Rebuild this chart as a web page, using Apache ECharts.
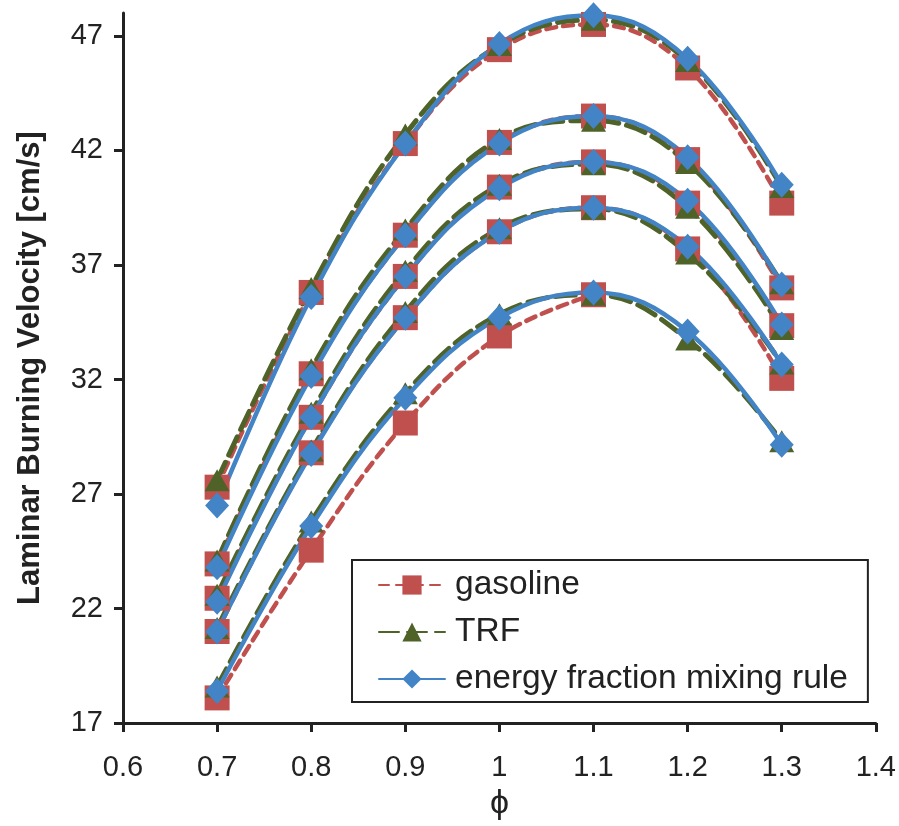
<!DOCTYPE html>
<html><head><meta charset="utf-8">
<script src="https://cdn.jsdelivr.net/npm/echarts@6/dist/echarts.min.js"></script>
<style>html,body{margin:0;padding:0;background:#fff}#c{width:899px;height:826px}</style>
</head><body><div id="c"></div>
<script>
const phi = [0.7, 0.8, 0.9, 1.0, 1.1, 1.2, 1.3];
const yTicks = [17, 22, 27, 32, 37, 42, 47];

const gasoline1 = [27.3, 35.8, 42.3, 46.4, 47.5, 45.6, 39.7];
const gasoline2 = [23.95, 32.25, 38.3, 42.35, 43.5, 41.6, 36.0];
const gasoline3 = [22.45, 30.35, 36.5, 40.4, 41.5, 39.7, 34.35];
const gasoline4 = [21.0, 28.8, 34.7, 38.45, 39.5, 37.7, 32.05];
const gasoline5 = [18.1, 24.55, 30.1, 33.9, 35.7, null, null];

const trf1 = [27.6, 36.0, 42.7, 46.6, 47.7, 45.9, 40.4];
const trf2 = [24.1, 32.45, 38.55, 42.5, 43.3, 41.45, 36.2];
const trf3 = [22.6, 30.55, 36.75, 40.5, 41.4, 39.5, 34.2];
const trf4 = [21.15, 28.9, 34.95, 38.6, 39.45, 37.5, 32.7];
const trf5 = [18.6, 25.8, 31.4, 34.85, 35.7, 33.75, 29.3];

const energy1 = [26.5, 35.6, 42.3, 46.65, 47.9, 46.0, 40.5];
const energy2 = [23.8, 32.15, 38.3, 42.3, 43.5, 41.7, 36.15];
const energy3 = [22.3, 30.35, 36.5, 40.35, 41.5, 39.8, 34.4];
const energy4 = [21.0, 28.75, 34.7, 38.45, 39.5, 37.8, 32.65];
const energy5 = [18.4, 25.6, 31.2, 34.7, 35.8, 34.1, 29.15];

const names = ['gasoline', 'TRF', 'energy fraction mixing rule'];
const RED = '#C0504D', GREEN = '#4F6228', BLUE = '#4284C6';
const FONT = 'Liberation Sans';

function pairs(arr) { return phi.map((x, i) => [x, arr[i]]); }

const styles = [
  { name: names[0], color: RED, symbol: 'rect', size: 25, dash: [10, 7], width: 4.5 },
  { name: names[1], color: GREEN, symbol: 'triangle', size: [25, 22], dash: [20, 8], width: 5 },
  { name: names[2], color: BLUE, symbol: 'diamond', size: [24, 26], dash: 'solid', width: 4.5 }
];
const groups = [
  [gasoline1, gasoline2, gasoline3, gasoline4, gasoline5],
  [trf1, trf2, trf3, trf4, trf5],
  [energy1, energy2, energy3, energy4, energy5]
];
const series = [];
groups.forEach((g, k) => {
  const s = styles[k];
  g.forEach(arr => {
    series.push({
      type: 'line', name: s.name, data: pairs(arr), smooth: 0.4,
      symbol: s.symbol, symbolSize: s.size, showAllSymbol: true,
      connectNulls: false,
      itemStyle: { color: s.color },
      lineStyle: { color: s.color, width: s.width, type: s.dash, cap: 'round' },
      emphasis: { disabled: true }, animation: false
    });
  });
});

const chart = echarts.init(document.getElementById('c'));
chart.setOption({
  backgroundColor: '#fff',
  animation: false,
  grid: { left: 123, right: 23, top: 13, bottom: 93, containLabel: false },
  legend: {
    data: names, orient: 'vertical', left: 352, top: 560,
    padding: [8, 20, 6, 26],
    itemWidth: 66, itemHeight: 24, itemGap: 13,
    backgroundColor: '#fff', borderColor: '#222', borderWidth: 2,
    textStyle: { fontFamily: FONT, fontSize: 33.5, lineHeight: 30, color: '#222', padding: [0, 0, 0, 5] }
  },
  xAxis: {
    type: 'value', min: 0.6, max: 1.4, interval: 0.1,
    name: 'ϕ', nameLocation: 'middle', nameGap: 58,
    nameTextStyle: { fontFamily: FONT, fontSize: 34, color: '#222' },
    axisLine: { show: true, onZero: false, lineStyle: { color: '#222', width: 3 } },
    axisTick: { show: true, length: 9, lineStyle: { color: '#222', width: 3 } },
    axisLabel: { fontFamily: FONT, fontSize: 29, color: '#222', margin: 30,
      formatter: v => String(+v.toFixed(1)) },
    splitLine: { show: false }
  },
  yAxis: {
    type: 'value', min: 17, max: 48,
    name: 'Laminar Burning Velocity [cm/s]', nameLocation: 'middle', nameGap: 77,
    nameTextStyle: { fontFamily: FONT, fontSize: 31, fontWeight: 'bold', color: '#222' },
    axisLine: { show: true, lineStyle: { color: '#222', width: 3 } },
    axisTick: { show: true, length: 9, customValues: yTicks, lineStyle: { color: '#222', width: 3 } },
    axisLabel: { fontFamily: FONT, fontSize: 29, color: '#222', margin: 20, customValues: yTicks },
    splitLine: { show: false }
  },
  series: series
});
</script></body></html>
